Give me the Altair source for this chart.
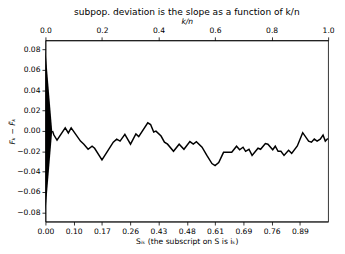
import altair as alt
import pandas as pd

# line data (k/n, deviation)
kn = [0.025, 0.030, 0.041, 0.070, 0.081, 0.091, 0.124, 0.136, 0.151, 0.165, 0.174,
      0.200, 0.217, 0.240, 0.252, 0.264, 0.281, 0.301, 0.320, 0.330, 0.362, 0.372,
      0.383, 0.391, 0.409, 0.421, 0.432, 0.453, 0.473, 0.490, 0.511, 0.523, 0.534,
      0.554, 0.571, 0.589, 0.600, 0.613, 0.630, 0.659, 0.676, 0.687, 0.699, 0.708,
      0.720, 0.731, 0.752, 0.761, 0.778, 0.787, 0.804, 0.813, 0.823, 0.833, 0.844,
      0.860, 0.871, 0.891, 0.910, 0.931, 0.941, 0.951, 0.961, 0.972, 0.982, 0.990, 0.999]
dev = [0.000, -0.004, -0.009, 0.003, -0.002, 0.003, -0.010, -0.013, -0.018, -0.015, -0.017,
       -0.0285, -0.021, -0.011, -0.008, -0.010, -0.0034, -0.013, -0.003, -0.0056, 0.008, 0.0063,
       -0.001, -0.0002, -0.005, -0.011, -0.013, -0.020, -0.013, -0.018, -0.0105, -0.013, -0.0105,
       -0.016, -0.024, -0.032, -0.034, -0.031, -0.021, -0.021, -0.015, -0.0185, -0.016, -0.020,
       -0.018, -0.024, -0.017, -0.018, -0.0124, -0.013, -0.0185, -0.015, -0.020, -0.020, -0.024,
       -0.019, -0.022, -0.0147, -0.0017, -0.010, -0.011, -0.008, -0.010, -0.008, -0.004, -0.010, -0.0075]

# triangle (scale indicator)
tri_x = [0.0, 0.024]
tri_top = [0.08, 0.0]
tri_bot = [-0.08, 0.0]

bottom_ticks = [0.0, 0.1, 0.2, 0.3, 0.4, 0.5, 0.6, 0.7, 0.8, 0.9]
bottom_labels = ["0.00", "0.10", "0.17", "0.26", "0.43", "0.48", "0.61", "0.69", "0.76", "0.89"]
top_ticks = [0.0, 0.2, 0.4, 0.6, 0.8, 1.0]
y_ticks = [-0.08, -0.06, -0.04, -0.02, 0.0, 0.02, 0.04, 0.06, 0.08]

line_df = pd.DataFrame({"x": kn, "y": dev})
tri_df = pd.DataFrame({"x": tri_x, "y": tri_top, "y2": tri_bot})

FONT = "DejaVu Sans"
xscale = alt.Scale(domain=[0, 1], nice=False, zero=False)
yscale = alt.Scale(domain=[-0.089, 0.089], nice=False, zero=False)

label_arr = "[" + ",".join("'%s'" % s for s in bottom_labels) + "]"

common_axis = dict(grid=False, domainColor="black", domainWidth=0.8, tickColor="black",
                   tickWidth=0.8, tickSize=3.5, labelFont=FONT, labelFontSize=7.7,
                   labelColor="black", titleFont=FONT, titleFontSize=7.7,
                   titleColor="black", titleFontWeight="normal",
                   labelFlush=False)

y_axis = alt.Axis(values=y_ticks, format=".2f", title="Fₖ − F̃ₖ",
                  titleFontStyle="italic", titlePadding=0, labelPadding=2, **common_axis)

tri = alt.Chart(tri_df).mark_area(color="black", opacity=1).encode(
    x=alt.X("x:Q", scale=xscale,
            axis=alt.Axis(orient="bottom", values=bottom_ticks,
                          labelExpr=label_arr + "[round(datum.value*10)]",
                          title="Sᵢₖ (the subscript on S is iₖ)", titlePadding=2,
                          labelPadding=3, **common_axis)),
    y=alt.Y("y:Q", scale=yscale, axis=y_axis),
    y2="y2:Q",
)

line = alt.Chart(line_df).mark_line(color="black", strokeWidth=1.5).encode(
    x=alt.X("x:Q", scale=xscale,
            axis=alt.Axis(orient="top", values=top_ticks, format=".1f",
                          title="k/n", titleFontStyle="italic", titlePadding=2,
                          labelPadding=2, **common_axis)),
    y=alt.Y("y:Q", scale=yscale, axis=y_axis),
)

chart = alt.layer(tri, line).resolve_axis(x="independent").properties(
    width=287, height=184,
    title=alt.TitleParams("subpop. deviation is the slope as a function of k/n",
                          font=FONT, fontSize=9.2, fontWeight="normal", color="black",
                          anchor="middle", offset=0),
    autosize=alt.AutoSizeParams(type="none"),
    padding={"left": 38, "top": 31, "right": 9, "bottom": 23},
).configure_view(stroke="black", strokeWidth=0.8)

chart.save("out.html", embed_options={"renderer": "svg", "actions": False})
